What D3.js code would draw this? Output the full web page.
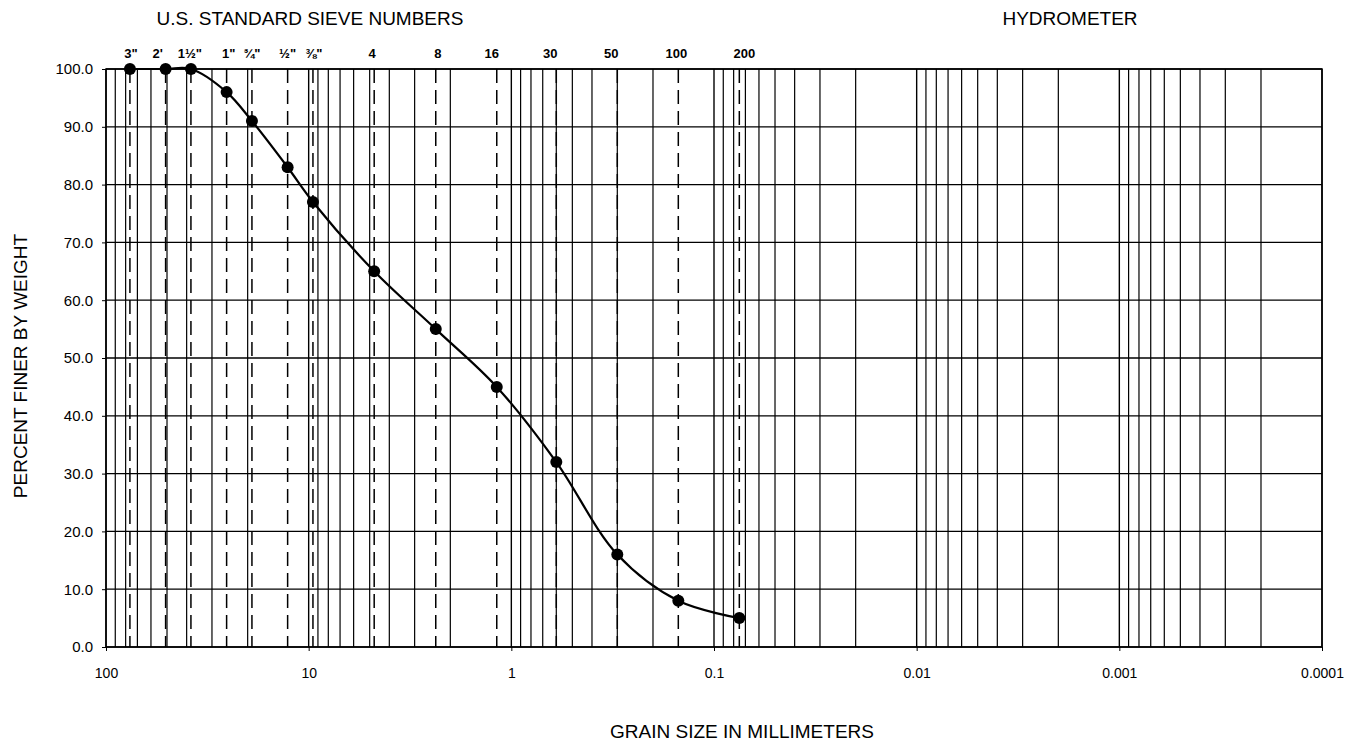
<!DOCTYPE html>
<html><head><meta charset="utf-8">
<script src="https://cdn.jsdelivr.net/npm/d3@7"></script>
<style>body{margin:0;background:#fff}svg{display:block}text{font-family:Arial,"Liberation Sans",sans-serif;fill:#000}</style>
</head><body>
<svg id="c" width="1360" height="748"></svg>
<script>
const sieveLabels = ['3"', "2'", '1½"', '1"', '¾"', '½"', '⅜"', '4', '8', '16', '30', '50', '100', '200'];
const sieveSizes = [76.2, 50.8, 38.1, 25.4, 19.05, 12.7, 9.525, 4.75, 2.36, 1.18, 0.6, 0.3, 0.15, 0.075];
const percentFiner = [100, 100, 100, 96, 91, 83, 77, 65, 55, 45, 32, 16, 8, 5];
const xTickValues = [100, 10, 1, 0.1, 0.01, 0.001, 0.0001];
const xTickLabels = ["100", "10", "1", "0.1", "0.01", "0.001", "0.0001"];
const yTickValues = [0, 10, 20, 30, 40, 50, 60, 70, 80, 90, 100];

const svg = d3.select("#c");
const L = 106, R = 1322, T = 69, B = 647;
const x = d3.scaleLog().domain([100, 0.0001]).range([L, R]);
const y = d3.scaleLinear().domain([0, 100]).range([B, T]);

// minor log gridlines
const minor = [];
for (let e = -4; e < 2; e++) for (let m = 2; m <= 9; m++) minor.push(m * Math.pow(10, e));
svg.append("g").selectAll("line").data(minor).join("line")
  .attr("x1", d => x(d)).attr("x2", d => x(d)).attr("y1", T).attr("y2", B)
  .attr("stroke", "#000").attr("stroke-width", 1.2);
// decade lines
svg.append("g").selectAll("line").data(xTickValues).join("line")
  .attr("x1", d => x(d)).attr("x2", d => x(d)).attr("y1", T).attr("y2", B)
  .attr("stroke", "#000").attr("stroke-width", 1.4);
// sieve dashed lines
svg.append("g").selectAll("line").data(sieveSizes).join("line")
  .attr("x1", d => x(d)).attr("x2", d => x(d)).attr("y1", T).attr("y2", B)
  .attr("stroke", "#000").attr("stroke-width", 1.5).attr("stroke-dasharray", "14,7");
// horizontal grid
svg.append("g").selectAll("line").data(yTickValues).join("line")
  .attr("x1", L).attr("x2", R).attr("y1", d => y(d)).attr("y2", d => y(d))
  .attr("stroke", "#000").attr("stroke-width", 1.3);
// frame
svg.append("rect").attr("x", L).attr("y", T).attr("width", R - L).attr("height", B - T)
  .attr("fill", "none").attr("stroke", "#000").attr("stroke-width", 1.5);

// y axis
const yAxis = d3.axisLeft(y).tickValues(yTickValues).tickFormat(d3.format(".1f")).tickSize(4).tickPadding(9);
const gy = svg.append("g").attr("transform", `translate(${L},0)`).call(yAxis);
gy.select(".domain").remove();
gy.selectAll("text").style("font-size", "15px").style("font-family", "Arial, 'Liberation Sans', sans-serif");
gy.selectAll("line").attr("stroke", "#000");

// x axis
const xAxis = d3.axisBottom(x).tickValues(xTickValues).tickFormat((d, i) => xTickLabels[i]).tickSize(4).tickPadding(17);
const gx = svg.append("g").attr("transform", `translate(0,${B})`).call(xAxis);
gx.select(".domain").remove();
gx.selectAll("text").style("font-size", "14px").style("font-family", "Arial, 'Liberation Sans', sans-serif");

// sieve labels on top (small nudges so neighbouring labels do not collide)
const nudge = [1, -8, -1, 2, 0, 0, 1, -2, 2, -5, -6, -6, -2, 5];
svg.append("g").selectAll("text").data(sieveSizes).join("text")
  .attr("x", (d, i) => x(d) + nudge[i]).attr("y", 58)
  .attr("text-anchor", "middle").style("font-size", "13px").style("font-weight", "bold")
  .text((d, i) => sieveLabels[i]);

// titles
svg.append("text").attr("x", 310).attr("y", 25).attr("text-anchor", "middle").style("font-size", "19px").text("U.S. STANDARD SIEVE NUMBERS");
svg.append("text").attr("x", 1070).attr("y", 25).attr("text-anchor", "middle").style("font-size", "19px").text("HYDROMETER");
svg.append("text").attr("x", 742).attr("y", 738).attr("text-anchor", "middle").style("font-size", "19px").text("GRAIN SIZE IN MILLIMETERS");
svg.append("text").attr("transform", `translate(27,${(T + B) / 2 + 8}) rotate(-90)`).attr("text-anchor", "middle").style("font-size", "19px").text("PERCENT FINER BY WEIGHT");

// curve
const pts = sieveSizes.map((d, i) => [d, percentFiner[i]]);
const line = d3.line().x(d => x(d[0])).y(d => y(d[1])).curve(d3.curveCatmullRom.alpha(0.5));
svg.append("path").datum(pts).attr("d", line).attr("fill", "none").attr("stroke", "#000").attr("stroke-width", 2.2);
svg.append("g").selectAll("circle").data(pts).join("circle")
  .attr("cx", d => x(d[0])).attr("cy", d => y(d[1])).attr("r", 6).attr("fill", "#000");
</script>
</body></html>
